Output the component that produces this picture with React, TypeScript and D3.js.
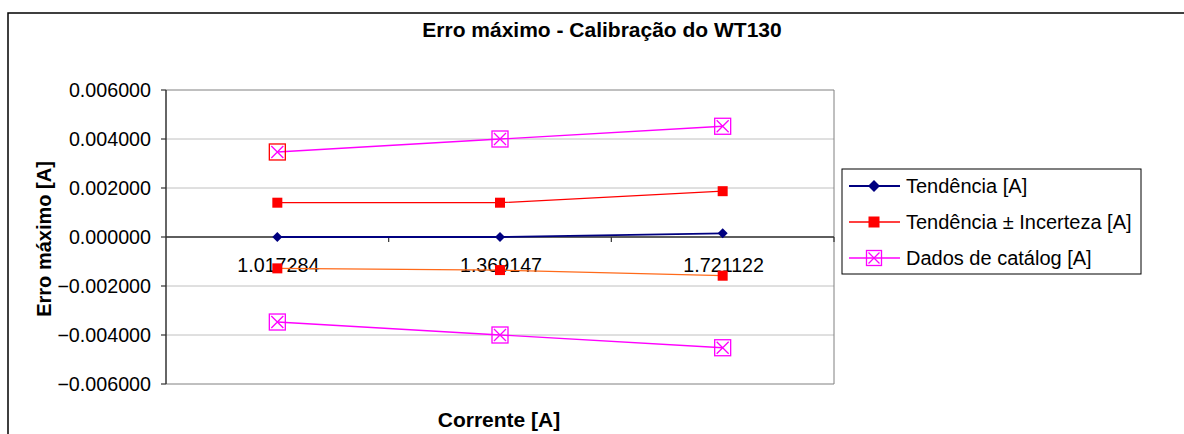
import React from "react";
import * as d3 from "d3";

const categories = ["1.017284", "1.369147", "1.721122"];
const tendencia = [0.0, 0.0, 0.00015];
const tendUpper = [0.0014, 0.0014, 0.00187];
const tendLower = [-0.00128, -0.00135, -0.00158];
const catalogUpper = [0.00347, 0.004, 0.00452];
const catalogLower = [-0.00347, -0.004, -0.00452];
const yTicks = [-0.006, -0.004, -0.002, 0, 0.002, 0.004, 0.006];
const legendLabels = ["Tendência [A]", "Tendência ± Incerteza [A]", "Dados de catálog [A]"];

const W = 1184;
const H = 434;
const plot = { left: 166, right: 834, top: 90, bottom: 384 };
const FONT = "'Liberation Sans', Arial, sans-serif";

export default function App() {
  const x = d3.scaleBand<string>().domain(categories).range([plot.left, plot.right]);
  const y = d3.scaleLinear().domain([-0.006, 0.006]).range([plot.bottom, plot.top]);
  const cx = (c: string) => (x(c) as number) + x.bandwidth() / 2;
  const line = d3
    .line<number>()
    .x((_, i) => cx(categories[i]))
    .y((d) => y(d));

  const diamond = (px: number, py: number, r: number, key: string) => (
    <path key={key} d={`M${px},${py - r}L${px + r},${py}L${px},${py + r}L${px - r},${py}Z`} fill="#000080" />
  );
  const square = (px: number, py: number, s: number, key: string) => (
    <rect key={key} x={px - s / 2} y={py - s / 2} width={s} height={s} fill="#FF0000" />
  );
  const xbox = (px: number, py: number, s: number, key: string, stroke = "#FF00FF") => (
    <g key={key}>
      <rect x={px - s / 2} y={py - s / 2} width={s} height={s} fill="none" stroke={stroke} strokeWidth={1.3} />
      <path
        d={`M${px - s / 2 + 2},${py - s / 2 + 2}L${px + s / 2 - 2},${py + s / 2 - 2}M${px + s / 2 - 2},${py - s / 2 + 2}L${px - s / 2 + 2},${py + s / 2 - 2}`}
        stroke="#FF00FF"
        strokeWidth={1.3}
      />
    </g>
  );

  const zeroY = y(0);
  const bandEdges = categories.map((c) => (x(c) as number) + x.bandwidth());

  const legendY = [186, 222, 258];

  return (
    <div style={{ position: "absolute", left: 0, top: 0 }}>
      <svg width={W} height={H} style={{ display: "block", background: "#fff" }} fontFamily={FONT}>
        <rect x={8} y={13} width={W} height={H} fill="#fff" stroke="#000" strokeWidth={1.5} />
        <text x={602} y={37} textAnchor="middle" fontSize={21} fontWeight="bold" fill="#000">
          Erro máximo - Calibração do WT130
        </text>

        {/* gridlines */}
        {yTicks.map((t) => (
          <line
            key={"g" + t}
            x1={plot.left}
            x2={plot.right}
            y1={y(t)}
            y2={y(t)}
            stroke={t === 0.006 || t === -0.006 ? "#808080" : "#C0C0C0"}
            strokeWidth={1}
          />
        ))}
        <line x1={plot.right} x2={plot.right} y1={plot.top} y2={plot.bottom} stroke="#808080" strokeWidth={1} />

        {/* y axis */}
        <line x1={plot.left} x2={plot.left} y1={plot.top} y2={plot.bottom} stroke="#333" strokeWidth={1.5} />
        {yTicks.map((t) => (
          <g key={"t" + t}>
            <line x1={plot.left - 5} x2={plot.left} y1={y(t)} y2={y(t)} stroke="#333" strokeWidth={1.2} />
            <text x={plot.left - 15} y={y(t)} dy="0.35em" textAnchor="end" fontSize={19.7} fill="#000">
              {d3.format(".6f")(t)}
            </text>
          </g>
        ))}

        {/* x axis at zero */}
        <line x1={plot.left} x2={plot.right} y1={zeroY} y2={zeroY} stroke="#333" strokeWidth={1.5} />
        {bandEdges.map((bx, i) => (
          <line key={"xt" + i} x1={bx} x2={bx} y1={zeroY} y2={zeroY + 5} stroke="#333" strokeWidth={1.2} />
        ))}
        {categories.map((c) => (
          <text key={"c" + c} x={cx(c) + 1} y={272} textAnchor="middle" fontSize={19.7} fill="#000">
            {c}
          </text>
        ))}

        {/* series */}
        <path d={line(catalogUpper) || ""} fill="none" stroke="#FF00FF" strokeWidth={1.3} />
        <path d={line(catalogLower) || ""} fill="none" stroke="#FF00FF" strokeWidth={1.3} />
        <path d={line(tendUpper) || ""} fill="none" stroke="#FF0000" strokeWidth={1.3} />
        <path d={line(tendLower) || ""} fill="none" stroke="#FF6A1A" strokeWidth={1.3} />
        <path d={line(tendencia) || ""} fill="none" stroke="#000080" strokeWidth={1.8} />

        {catalogUpper.map((v, i) => xbox(cx(categories[i]), y(v), 16, "cu" + i, i === 0 ? "#FF0000" : "#FF00FF"))}
        {catalogLower.map((v, i) => xbox(cx(categories[i]), y(v), 16, "cl" + i))}
        {tendUpper.map((v, i) => square(cx(categories[i]), y(v), 10, "tu" + i))}
        {tendLower.map((v, i) => square(cx(categories[i]), y(v), 10, "tl" + i))}
        {tendencia.map((v, i) => diamond(cx(categories[i]), y(v), 5, "td" + i))}

        {/* axis titles */}
        <text x={499} y={427} textAnchor="middle" fontSize={21} fontWeight="bold" fill="#000">
          Corrente [A]
        </text>
        <text
          transform={`translate(51,239) rotate(-90)`}
          textAnchor="middle"
          fontSize={20}
          fontWeight="bold"
          fill="#000"
        >
          Erro máximo [A]
        </text>

        {/* legend */}
        <rect x={842} y={169} width={299} height={105} fill="#fff" stroke="#000" strokeWidth={1} />
        {legendY.map((ly, i) => (
          <g key={"l" + i}>
            <line
              x1={849}
              x2={900}
              y1={ly}
              y2={ly}
              stroke={i === 0 ? "#000080" : i === 1 ? "#FF0000" : "#FF00FF"}
              strokeWidth={i === 0 ? 1.8 : 1.3}
            />
            {i === 0 && diamond(874, ly, 6, "ld")}
            {i === 1 && square(874, ly, 11, "ls")}
            {i === 2 && xbox(874, ly, 15, "lx")}
            <text x={906} y={ly} dy="0.35em" fontSize={20} fill="#000">
              {legendLabels[i]}
            </text>
          </g>
        ))}
      </svg>
    </div>
  );
}
